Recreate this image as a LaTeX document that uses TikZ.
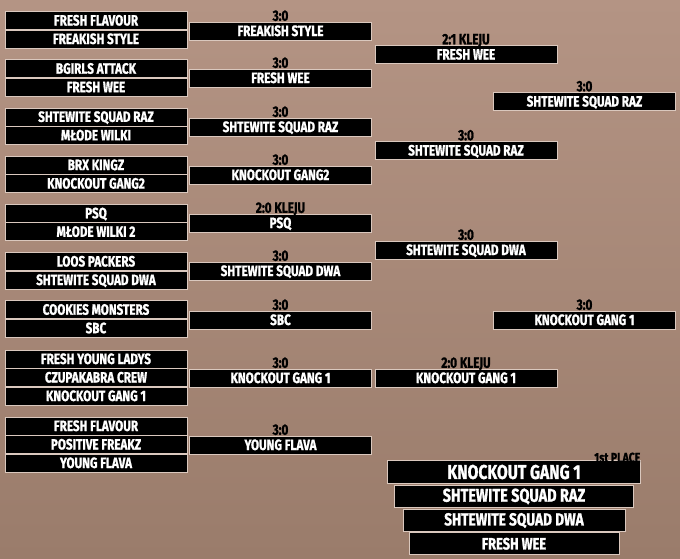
\documentclass[tikz,border=0pt]{standalone}
\usepackage{fontspec}
\setmainfont{Fira Sans}[FakeStretch=0.78, BoldFeatures={FakeBold=1.2}]
\usepackage{tikz}
\usetikzlibrary{positioning}
\definecolor{BracketBgTop}{RGB}{180,148,132}
\definecolor{BracketBgBottom}{RGB}{154,124,107}
\definecolor{BracketGlow}{RGB}{218,200,190}

\begin{document}
\begin{tikzpicture}[
    x=1pt, y=-1pt,
    font=\bfseries\fontsize{15}{15}\selectfont,
    team/.style = {
        rectangle, fill=black, draw=BracketGlow, line width=0.8pt,
        text=white, minimum width=182pt, minimum height=18pt,
        inner sep=0pt, outer sep=0pt, text height=10pt, text depth=0pt
    },
    score/.style = {
        inner sep=0pt, text=black, text height=10pt, text depth=0pt,
        font=\bfseries\fontsize{15}{15}\selectfont
    },
    podium/.style = {
        rectangle, fill=black, draw=BracketGlow, line width=0.8pt,
        text=white, inner sep=0pt, outer sep=0pt, minimum height=22.5pt
    }
]

% ===== BACKGROUND =====
\shade[top color=BracketBgTop, bottom color=BracketBgBottom] (0,0) rectangle (680,558);
\useasboundingbox (0,0) rectangle (680,558);

% ===== ROUND 1 =====
\node[team] (r1a) at (96,20.5) {FRESH FLAVOUR};
\node[team, below=0.5pt of r1a] (r1b) {FREAKISH STYLE};

\node[team] (r1c) at (96,68.7) {BGIRLS ATTACK};
\node[team, below=0.5pt of r1c] (r1d) {FRESH WEE};

\node[team] (r1e) at (96,116.9) {SHTEWITE SQUAD RAZ};
\node[team, below=0.5pt of r1e] (r1f) {MŁODE WILKI};

\node[team] (r1g) at (96,165.1) {BRX KINGZ};
\node[team, below=0.5pt of r1g] (r1h) {KNOCKOUT GANG2};

\node[team] (r1i) at (96,213.3) {PSQ};
\node[team, below=0.5pt of r1i] (r1j) {MŁODE WILKI 2};

\node[team] (r1k) at (96,261.5) {LOOS PACKERS};
\node[team, below=0.5pt of r1k] (r1l) {SHTEWITE SQUAD DWA};

\node[team] (r1m) at (96,309.7) {COOKIES MONSTERS};
\node[team, below=0.5pt of r1m] (r1n) {SBC};

\node[team] (r1o) at (96,359) {FRESH YOUNG LADYS};
\node[team, below=0.5pt of r1o] (r1p) {CZUPAKABRA CREW};
\node[team, below=0.5pt of r1p] (r1q) {KNOCKOUT GANG 1};

\node[team] (r1r) at (96,426) {FRESH FLAVOUR};
\node[team, below=0.5pt of r1r] (r1s) {POSITIVE FREAKZ};
\node[team, below=0.5pt of r1s] (r1t) {YOUNG FLAVA};

% ===== ROUND 2 =====
\node[team] (r2a) at (280.5,31) {FREAKISH STYLE};
\node[score, above=1pt of r2a] {3:0};

\node[team] (r2b) at (280.5,78) {FRESH WEE};
\node[score, above=1pt of r2b] {3:0};

\node[team] (r2c) at (280.5,127) {SHTEWITE SQUAD RAZ};
\node[score, above=1pt of r2c] {3:0};

\node[team] (r2d) at (280.5,175) {KNOCKOUT GANG2};
\node[score, above=1pt of r2d] {3:0};

\node[team] (r2e) at (280.5,223) {PSQ};
\node[score, above=1pt of r2e] {2:0 KLEJU};

\node[team] (r2f) at (280.5,271) {SHTEWITE SQUAD DWA};
\node[score, above=1pt of r2f] {3:0};

\node[team] (r2g) at (280.5,320) {SBC};
\node[score, above=1pt of r2g] {3:0};

\node[team] (r2h) at (280.5,378) {KNOCKOUT GANG 1};
\node[score, above=1pt of r2h] {3:0};

\node[team] (r2i) at (280.5,445) {YOUNG FLAVA};
\node[score, above=1pt of r2i] {3:0};

% ===== ROUND 3 =====
\node[team] (r3a) at (466,54.5) {FRESH WEE};
\node[score, above=1pt of r3a] {2:1 KLEJU};

\node[team] (r3b) at (466,150.5) {SHTEWITE SQUAD RAZ};
\node[score, above=1pt of r3b] {3:0};

\node[team] (r3c) at (466,250) {SHTEWITE SQUAD DWA};
\node[score, above=1pt of r3c] {3:0};

\node[team] (r3d) at (466,378) {KNOCKOUT GANG 1};
\node[score, above=1pt of r3d] {2:0 KLEJU};

% ===== ROUND 4 =====
\node[team] (r4a) at (584.5,101.5) {SHTEWITE SQUAD RAZ};
\node[score, above=1pt of r4a] {3:0};

\node[team] (r4b) at (584.5,320) {KNOCKOUT GANG 1};
\node[score, above=1pt of r4b] {3:0};

% ===== PODIUM =====
\node[podium, minimum width=253pt, font=\bfseries\fontsize{20}{21}\selectfont] (place1) at (514,472) {KNOCKOUT GANG 1};
\node[score, anchor=base east, font=\bfseries\fontsize{13.5}{14}\selectfont] (place1lbl) at ([yshift=-1.5pt]place1.north east) {1st PLACE};
\node[podium, minimum width=239pt, below=2pt of place1, font=\bfseries\fontsize{18.5}{19}\selectfont] (place2) {SHTEWITE SQUAD RAZ};
\node[podium, minimum width=222pt, minimum height=21.5pt, below=2pt of place2, font=\bfseries\fontsize{17.5}{18}\selectfont] (place3) {SHTEWITE SQUAD DWA};
\node[podium, minimum width=210pt, minimum height=22pt, below=1.5pt of place3, font=\bfseries\fontsize{16.5}{17}\selectfont] (place4) {FRESH WEE};
\end{tikzpicture}
\end{document}
